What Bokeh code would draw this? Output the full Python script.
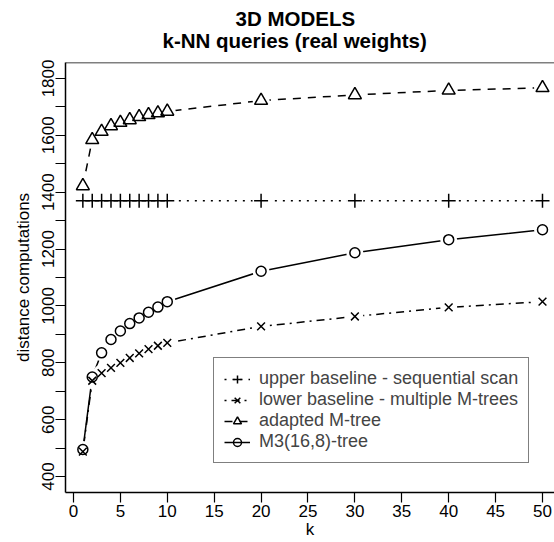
from bokeh.plotting import figure
from bokeh.models import (Range1d, FixedTicker, Span, Title, Legend, LegendItem)
from bokeh.embed import file_html
from bokeh.resources import INLINE

# ---- data ----
k = [1, 2, 3, 4, 5, 6, 7, 8, 9, 10, 20, 30, 40, 50]
upper_baseline = [1370, 1370, 1370, 1370, 1370, 1370, 1370, 1370, 1370, 1370, 1370, 1370, 1370, 1370]
lower_baseline = [488, 737, 764, 782, 800, 817, 833, 848, 860, 870, 928, 963, 995, 1015]
adapted_mtree = [1422, 1584, 1613, 1633, 1645, 1654, 1665, 1672, 1678, 1684, 1722, 1742, 1758, 1767]
m3_tree = [495, 750, 835, 882, 912, 938, 958, 978, 996, 1015, 1122, 1187, 1233, 1268]

series_names = ["upper baseline - sequential scan", "lower baseline - multiple M-trees",
                "adapted M-tree", "M3(16,8)-tree"]
title_lines = ["3D MODELS", "k-NN queries (real weights)"]
x_ticks = [0, 5, 10, 15, 20, 25, 30, 35, 40, 45, 50]
y_ticks = [400, 500, 600, 700, 800, 900, 1000, 1100, 1200, 1300, 1400, 1500, 1600, 1700, 1800]
y_labeled = [400, 600, 800, 1000, 1200, 1400, 1600, 1800]

FONT = "Liberation Sans"

p = figure(width=554, height=542, output_backend="svg", toolbar_location=None,
           x_range=Range1d(-0.85, 51.28), y_range=Range1d(344, 1856),
           min_border_left=65, min_border_right=0, min_border_top=62, min_border_bottom=50,
           title=None)
p.outline_line_color = None
p.background_fill_color = "white"
p.border_fill_color = "white"
p.xgrid.visible = False
p.ygrid.visible = False

for ax in (p.xaxis[0], p.yaxis[0]):
    ax.axis_line_color = "black"
    ax.axis_line_width = 1.5
    ax.major_tick_line_color = "black"
    ax.major_tick_line_width = 1.2
    ax.major_tick_out = 10
    ax.major_tick_in = 0
    ax.minor_tick_line_color = None
    ax.major_label_text_font = FONT
    ax.major_label_text_font_size = "17px"
    ax.major_label_text_color = "black"
    ax.axis_label_text_font = FONT
    ax.axis_label_text_font_size = "17px"
    ax.axis_label_text_font_style = "normal"
    ax.axis_label_text_color = "black"

p.xaxis.ticker = FixedTicker(ticks=x_ticks)
p.yaxis.ticker = FixedTicker(ticks=y_ticks)
p.yaxis.major_label_overrides = {t: "" for t in y_ticks if t not in y_labeled}
p.yaxis.major_label_orientation = "vertical"
p.xaxis.axis_label = "k"
p.yaxis.axis_label = "distance computations"
p.xaxis.major_label_standoff = 2
p.yaxis.major_label_standoff = 1
p.xaxis.axis_label_standoff = 0
p.yaxis.axis_label_standoff = 7

# top box line
p.add_layout(Span(location=1856, dimension="width", line_color="black", line_width=1.5))

# two-line title (first added sits closest to the frame)
p.add_layout(Title(text=title_lines[1], align="left", offset=97, standoff=21,
                   vertical_align="bottom", text_font=FONT, text_font_size="20.5px",
                   text_font_style="bold", text_color="black"), "above")
p.add_layout(Title(text=title_lines[0], align="left", offset=170, standoff=-26,
                   vertical_align="bottom", text_font=FONT, text_font_size="20.5px",
                   text_font_style="bold", text_color="black"), "above")

LW = 1.5
l_up = p.line(k, upper_baseline, line_color="black", line_width=LW, line_dash="2 6")
l_lo = p.line(k, lower_baseline, line_color="black", line_width=LW, line_dash="2 5 8 5")
l_ad = p.line(k, adapted_mtree, line_color="black", line_width=LW, line_dash="8 7")
l_m3 = p.line(k, m3_tree, line_color="black", line_width=LW)

# gaps around points (R type="b")
for ys in (upper_baseline, lower_baseline, adapted_mtree, m3_tree):
    p.scatter(k, ys, marker="circle", size=17, fill_color="white", line_color=None)

m_up = p.scatter(k, upper_baseline, marker="cross", size=14, line_color="black", line_width=LW)
m_lo = p.scatter(k, lower_baseline, marker="x", size=11, line_color="black", line_width=LW)
m_ad = p.scatter(k, adapted_mtree, marker="triangle", size=13, line_color="black",
                 fill_color=None, line_width=LW)
m_m3 = p.scatter(k, m3_tree, marker="circle", size=10, line_color="black",
                 fill_color=None, line_width=LW)

legend = Legend(items=[
    LegendItem(label=series_names[0], renderers=[l_up, m_up]),
    LegendItem(label=series_names[1], renderers=[l_lo, m_lo]),
    LegendItem(label=series_names[2], renderers=[l_ad, m_ad]),
    LegendItem(label=series_names[3], renderers=[l_m3, m_m3]),
], location=(148, 29))
legend.border_line_color = "black"
legend.border_line_width = 1.5
legend.background_fill_color = "white"
legend.background_fill_alpha = 1
legend.label_text_font = FONT
legend.label_text_font_size = "18px"
legend.label_height = 20
legend.glyph_height = 20
legend.glyph_width = 26
legend.label_standoff = 9
legend.spacing = 0
legend.padding = 10
legend.margin = 0
p.add_layout(legend, "center")

open("out.html", "w").write(file_html(p, INLINE))
